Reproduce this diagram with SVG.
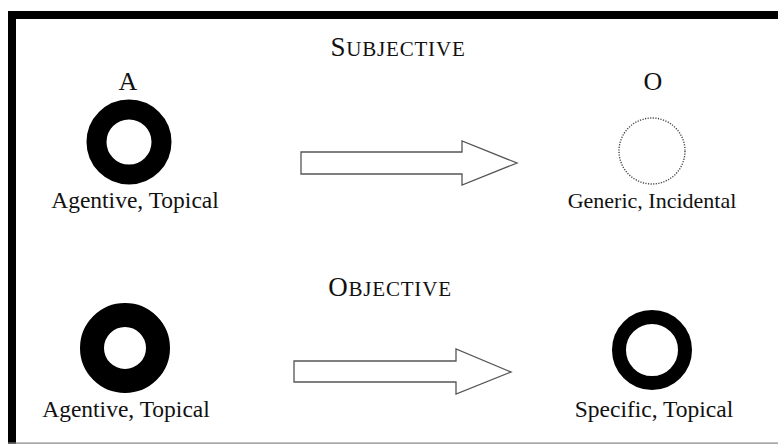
<svg xmlns="http://www.w3.org/2000/svg" width="778" height="445" viewBox="0 0 778 445">
  <style>
    .lbl { font-family: "Liberation Serif", "Times New Roman", serif; font-size: 23.5px; fill: #111; text-anchor: middle; }
    .lbl.narrow { font-size: 22px; }
    .role { font-family: "Liberation Serif", "Times New Roman", serif; font-size: 26px; fill: #111; text-anchor: middle; }
    .head { font-family: "Liberation Serif", "Times New Roman", serif; font-size: 21px; fill: #111; text-anchor: middle; letter-spacing: 0.8px; }
    .head .cap { font-size: 27px; }
    .ring { fill: none; stroke: #000; }
    .dotted { fill: none; stroke: #444; stroke-width: 1.4; stroke-dasharray: 1.2 1.4; }
    .arrow { fill: #fff; stroke: #555; stroke-width: 1.3; stroke-linejoin: miter; }
  </style>

  <rect width="778" height="445" fill="#fff"/>

  <!-- frame: heavy top and left rules, light bottom rule -->
  <g id="frame">
    <rect x="8" y="11" width="770" height="8" fill="#000"/>
    <rect x="8" y="11" width="8" height="433" fill="#000"/>
    <line x1="8" y1="443.2" x2="778" y2="443.2" stroke="#888" stroke-width="1.2"/>
  </g>

  <!-- section headings -->
  <g id="heading-subjective">
    <text class="head" x="398" y="56"><tspan class="cap">S</tspan>UBJECTIVE</text>
  </g>
  <g id="heading-objective">
    <text class="head" x="390" y="296"><tspan class="cap">O</tspan>BJECTIVE</text>
  </g>

  <!-- role labels -->
  <g id="label-a"><text class="role" x="128" y="90">A</text></g>
  <g id="label-o"><text class="role" x="653" y="90">O</text></g>

  <!-- subjective row -->
  <g id="subj-agent">
    <circle class="ring" cx="129" cy="142" r="32.5" stroke-width="20"/>
    <text class="lbl" x="135" y="208">Agentive, Topical</text>
  </g>
  <g id="subj-object">
    <circle class="dotted" cx="652" cy="151" r="33"/>
    <text class="lbl narrow" x="652" y="208">Generic, Incidental</text>
  </g>

  <!-- objective row -->
  <g id="obj-agent">
    <circle class="ring" cx="125" cy="348" r="33" stroke-width="24"/>
    <text class="lbl" x="126" y="417">Agentive, Topical</text>
  </g>
  <g id="obj-object">
    <circle class="ring" cx="652" cy="350" r="33" stroke-width="14"/>
    <text class="lbl" x="654" y="417">Specific, Topical</text>
  </g>

  <!-- block arrows -->
  <g id="connectors">
    <polygon class="arrow" points="301,152 462,152 462,141 517,163 462,185 462,174 301,174"/>
    <polygon class="arrow" points="294,361 456,361 456,349 511,372 456,394 456,382 294,382"/>
  </g>
</svg>
